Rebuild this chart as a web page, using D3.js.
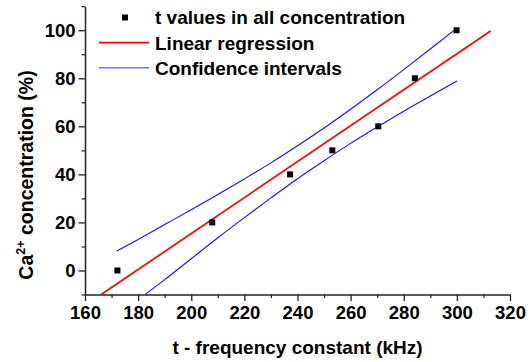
<!DOCTYPE html>
<html><head><meta charset="utf-8">
<script src="https://cdn.jsdelivr.net/npm/d3@7"></script>
<style>html,body{margin:0;padding:0;background:#fff;}svg{display:block;}</style>
</head><body>
<script>
// Data
const pointX = [172.2, 207.9, 237.2, 253.1, 270.4, 284.2, 299.9];
const pointY = [0, 20, 40, 50, 60, 80, 100];
const regX = [166.1, 312.7];
const regY = [-10, 99.7];
const upperX = [172, 180, 190, 200, 210, 220, 230, 240, 250, 260, 270, 280, 290, 300];
const upperY = [8.1, 12.9, 19.1, 25.3, 31.6, 38.1, 44.8, 51.9, 59.3, 67.1, 75.2, 83.6, 92.2, 100.9];
const lowerX = [182.6, 190, 200, 210, 220, 230, 240, 250, 260, 270, 280, 290, 300];
const lowerY = [-10, -3.8, 4.9, 13.6, 22.0, 30.2, 38.2, 45.7, 52.9, 59.7, 66.3, 72.6, 78.9];
const xTicks = [160, 180, 200, 220, 240, 260, 280, 300, 320];
const xMinor = [170, 190, 210, 230, 250, 270, 290, 310];
const yTicks = [0, 20, 40, 60, 80, 100];
const yMinor = [-10, 10, 30, 50, 70, 90, 110];
const legendLabels = ["t values in all concentration", "Linear regression", "Confidence intervals"];

const W = 530, H = 362;
const FONT = "'Liberation Sans', Arial, sans-serif";
const svg = d3.select("body").append("svg").attr("width", W).attr("height", H)
  .style("font-family", FONT);

const x = d3.scaleLinear().domain([160, 320]).range([85, 510]);
const y = d3.scaleLinear().domain([-10, 110]).range([294.5, 6.2]);

// clip
svg.append("clipPath").attr("id", "clip").append("rect")
  .attr("x", x(160)).attr("y", y(110)).attr("width", x(320) - x(160)).attr("height", y(-10) - y(110));

const axisColor = "#222";

// minor ticks
const gxm = svg.append("g").attr("transform", `translate(0,${y(-10)})`)
  .call(d3.axisBottom(x).tickValues(xMinor).tickSize(3.5).tickFormat(""));
const gym = svg.append("g").attr("transform", `translate(${x(160)},0)`)
  .call(d3.axisLeft(y).tickValues(yMinor).tickSize(3.5).tickFormat(""));
[gxm, gym].forEach(g => { g.select(".domain").remove(); g.selectAll("line").attr("stroke", axisColor).attr("stroke-width", 1.2); });

// major axes
const gx = svg.append("g").attr("transform", `translate(0,${y(-10)})`)
  .call(d3.axisBottom(x).tickValues(xTicks).tickSize(6.5).tickPadding(5).tickSizeOuter(0));
const gy = svg.append("g").attr("transform", `translate(${x(160)},0)`)
  .call(d3.axisLeft(y).tickValues(yTicks).tickSize(6.5).tickPadding(3).tickSizeOuter(0));
[gx, gy].forEach(g => {
  g.select(".domain").attr("stroke", axisColor).attr("stroke-width", 1.5);
  g.selectAll("line").attr("stroke", axisColor).attr("stroke-width", 1.3);
  g.selectAll("text").attr("font-family", FONT).attr("font-size", 18.5).attr("font-weight", "bold").attr("fill", "#000");
});

const plot = svg.append("g").attr("clip-path", "url(#clip)");
const line = d3.line().x(d => x(d[0])).y(d => y(d[1]));
const smooth = d3.line().x(d => x(d[0])).y(d => y(d[1])).curve(d3.curveMonotoneX);

plot.append("path").datum(upperX.map((v, i) => [v, upperY[i]]))
  .attr("d", smooth).attr("fill", "none").attr("stroke", "#1010ff").attr("stroke-width", 1.1);
plot.append("path").datum(lowerX.map((v, i) => [v, lowerY[i]]))
  .attr("d", smooth).attr("fill", "none").attr("stroke", "#1010ff").attr("stroke-width", 1.1);
plot.append("path").datum(regX.map((v, i) => [v, regY[i]]))
  .attr("d", line).attr("fill", "none").attr("stroke", "#ff0000").attr("stroke-width", 1.7);

const sq = 6;
plot.selectAll("rect.pt").data(pointX.map((v, i) => [v, pointY[i]])).enter().append("rect")
  .attr("class", "pt").attr("x", d => x(d[0]) - sq / 2).attr("y", d => y(d[1]) - sq / 2)
  .attr("width", sq).attr("height", sq).attr("fill", "#000");

// legend
const lg = svg.append("g");
const rowY = [17.5, 42.7, 67.7];
lg.append("rect").attr("x", 125 - 3).attr("y", rowY[0] - 3).attr("width", sq).attr("height", sq).attr("fill", "#000");
lg.append("line").attr("x1", 99).attr("x2", 149).attr("y1", rowY[1]).attr("y2", rowY[1]).attr("stroke", "#ff0000").attr("stroke-width", 1.7);
lg.append("line").attr("x1", 99).attr("x2", 149).attr("y1", rowY[2]).attr("y2", rowY[2]).attr("stroke", "#7070ff").attr("stroke-width", 1.5);
lg.selectAll("text").data(legendLabels).enter().append("text")
  .attr("x", 155).attr("y", (d, i) => rowY[i] + 6.8)
  .attr("font-size", 19).attr("font-weight", "bold").attr("fill", "#000").text(d => d);

// axis titles
svg.append("text").attr("x", 297.5).attr("y", 354).attr("text-anchor", "middle")
  .attr("font-size", 19).attr("font-weight", "bold").text("t - frequency constant (kHz)");

const yt = svg.append("text").attr("transform", `translate(33,175) rotate(-90)`)
  .attr("text-anchor", "middle").attr("font-size", 19.5).attr("font-weight", "bold");
yt.append("tspan").text("Ca");
yt.append("tspan").attr("font-size", 12.5).attr("dy", -8).text("2+");
yt.append("tspan").attr("dy", 8).text(" concentration (%)");
</script>
</body></html>
